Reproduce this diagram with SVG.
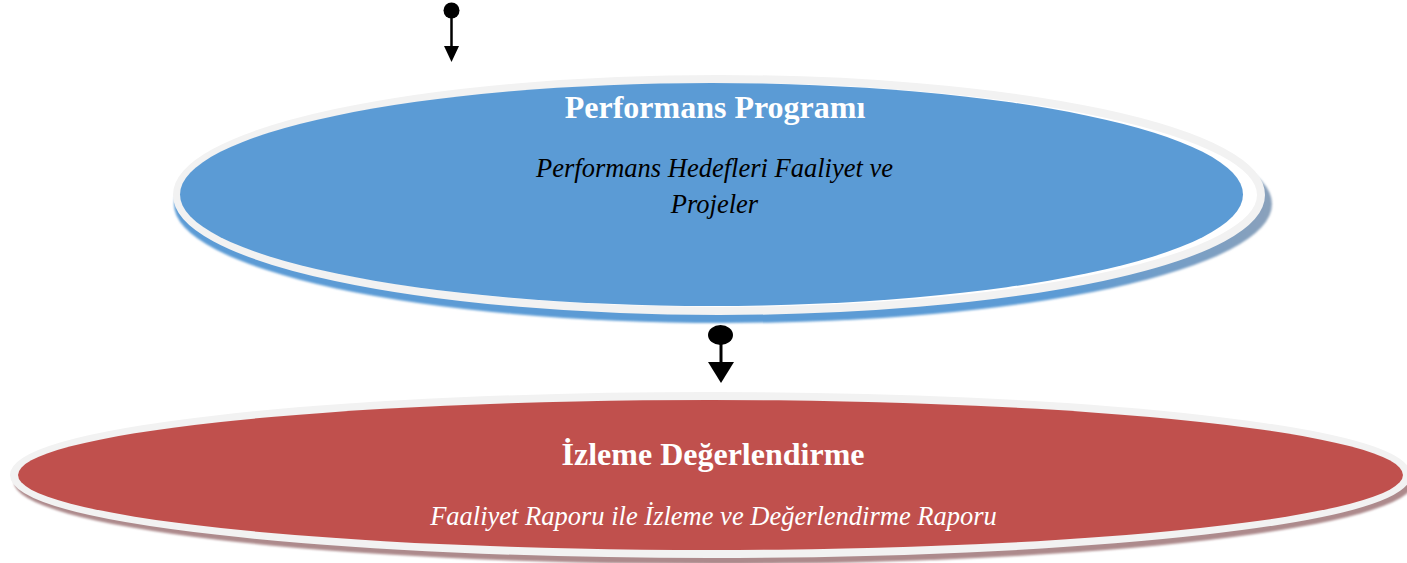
<svg xmlns="http://www.w3.org/2000/svg" width="1407" height="563" viewBox="0 0 1407 563">
  <style>
    .title { font-family: "Liberation Serif", "Times New Roman", serif; font-weight: bold; font-size: 32px; fill: #ffffff; text-anchor: middle; }
    .sub { font-family: "Liberation Serif", "Times New Roman", serif; font-style: italic; font-size: 26.5px; text-anchor: middle; }
    .ring { fill: #ffffff; stroke: #f2f2f2; stroke-width: 8; }
    .conn { stroke: #000000; stroke-width: 2.5; fill: none; }
  </style>
  <defs>
    <linearGradient id="blueShadow" x1="0" y1="0" x2="1" y2="0">
      <stop offset="0" stop-color="#5b9bd5"/>
      <stop offset="0.8" stop-color="#5b9bd5"/>
      <stop offset="1" stop-color="#8aa1bb"/>
    </linearGradient>
    <filter id="soft" x="-5%" y="-10%" width="110%" height="120%">
      <feGaussianBlur stdDeviation="0.8"/>
    </filter>
  </defs>

  <g id="node-performans">
    <ellipse cx="723" cy="204" rx="549" ry="119" fill="url(#blueShadow)" filter="url(#soft)"/>
    <ellipse class="ring" cx="719" cy="195" rx="542" ry="116"/>
    <ellipse cx="711.5" cy="194.5" rx="531.5" ry="111.5" fill="#5b9bd5"/>
    <text class="title" x="715" y="118">Performans Programı</text>
    <text class="sub" x="714.5" y="177" fill="#000000">Performans Hedefleri Faaliyet ve</text>
    <text class="sub" x="714.5" y="213" fill="#000000">Projeler</text>
  </g>

  <g id="node-izleme">
    <ellipse cx="714" cy="482" rx="700" ry="82" fill="#ad8a8c" filter="url(#soft)"/>
    <ellipse class="ring" cx="710.5" cy="475" rx="696.5" ry="79"/>
    <ellipse cx="710.5" cy="475" rx="692.5" ry="75" fill="#c0504d"/>
    <text class="title" x="713" y="465">İzleme Değerlendirme</text>
    <text class="sub" x="713.5" y="525" fill="#ffffff">Faaliyet Raporu ile İzleme ve Değerlendirme Raporu</text>
  </g>

  <g id="connectors">
    <g id="conn-top">
      <circle cx="451.5" cy="10.5" r="8" fill="#000000"/>
      <line class="conn" x1="451.5" y1="15" x2="451.5" y2="48"/>
      <polygon points="444,46 459,46 451.5,62" fill="#000000"/>
    </g>
    <g id="conn-mid">
      <ellipse cx="720.5" cy="335" rx="12.5" ry="10" fill="#000000"/>
      <line class="conn" x1="721" y1="340" x2="721" y2="364" style="stroke-width:3"/>
      <polygon points="708,362 734,362 721,383" fill="#000000"/>
    </g>
  </g>
</svg>
